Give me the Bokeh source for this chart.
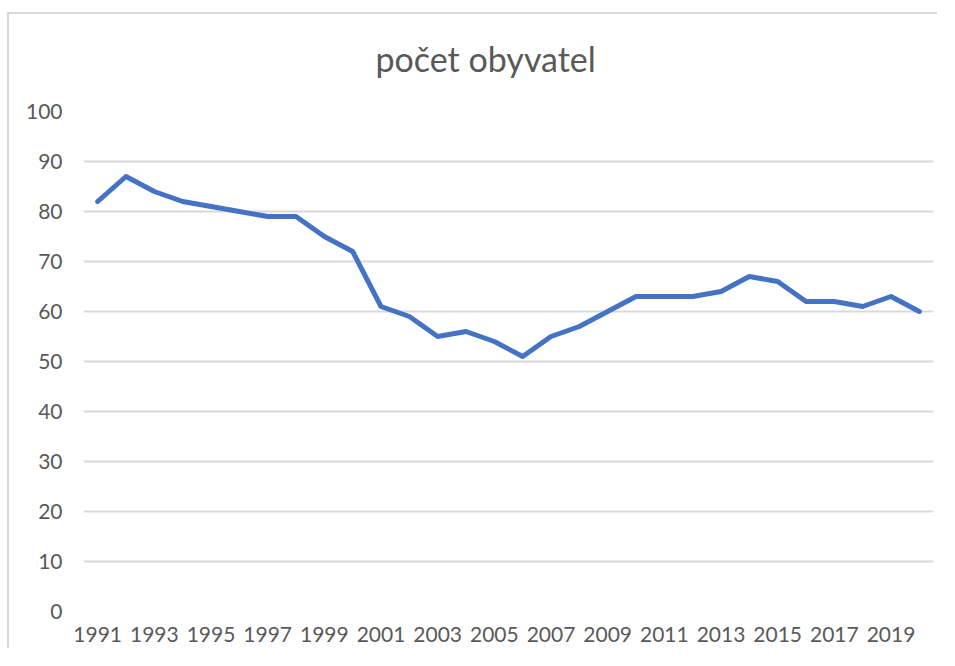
from bokeh.plotting import figure
from bokeh.models import ColumnDataSource, FixedTicker, Range1d, Title
from bokeh.embed import file_html
from bokeh.resources import INLINE

years = list(range(1991, 2021))
population = [82, 87, 84, 82, 81, 80, 79, 79, 75, 72,
              61, 59, 55, 56, 54, 51, 55, 57, 60, 63,
              63, 63, 64, 67, 66, 62, 62, 61, 63, 60]
x_ticks = list(range(1991, 2020, 2))
y_ticks = list(range(0, 101, 10))
title_text = "počet obyvatel"

FONT = "Lato"
TEXT_COLOR = "#595959"

src = ColumnDataSource(data=dict(year=years, pop=population))

p = figure(width=930, height=636, output_backend="svg", toolbar_location=None,
           x_range=Range1d(1990.5, 2020.5), y_range=Range1d(0, 100),
           min_border_left=74, min_border_right=6, min_border_top=97, min_border_bottom=39)

p.line("year", "pop", source=src, line_color="#4472C4", line_width=5,
       line_join="round", line_cap="round")

p.xaxis.ticker = FixedTicker(ticks=x_ticks)
p.yaxis.ticker = FixedTicker(ticks=y_ticks)
for ax in (p.xaxis[0], p.yaxis[0]):
    ax.axis_line_color = None
    ax.major_tick_line_color = None
    ax.minor_tick_line_color = None
    ax.major_label_text_font = FONT
    ax.major_label_text_font_size = "21px"
    ax.major_label_text_color = TEXT_COLOR
p.yaxis.major_label_standoff = 15
p.xaxis.major_label_standoff = 9

p.xgrid.grid_line_color = None
p.ygrid.grid_line_color = "#d9d9d9"
p.ygrid.grid_line_width = 2
p.outline_line_color = None

# spacer panel between the frame and the title
p.add_layout(Title(text=" ", text_font_size="10px", standoff=20), "above")
p.add_layout(Title(text=title_text, align="left", offset=292, standoff=0,
                   text_font=FONT, text_font_size="34px", text_font_style="normal",
                   text_color=TEXT_COLOR), "above")

p.styles = {"margin-left": "9px", "margin-top": "14px", "overflow": "hidden",
            "box-shadow": "-2px -2px 0 0 #d9d9d9"}

open("out.html", "w").write(file_html(p, INLINE))
